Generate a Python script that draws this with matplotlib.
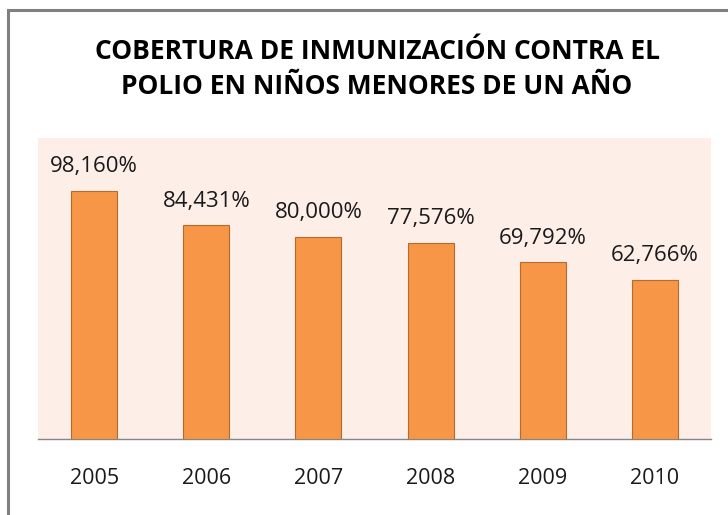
import matplotlib
matplotlib.use("Agg")
import matplotlib.pyplot as plt
from matplotlib.patches import Rectangle

years = ["2005", "2006", "2007", "2008", "2009", "2010"]
coverage = [98.160, 84.431, 80.000, 77.576, 69.792, 62.766]
labels = ["98,160%", "84,431%", "80,000%", "77,576%", "69,792%", "62,766%"]
title = "COBERTURA DE INMUNIZACIÓN CONTRA EL\nPOLIO EN NIÑOS MENORES DE UN AÑO"

W, H = 728, 515
fig = plt.figure(figsize=(W / 100, H / 100), dpi=100)
fig.patch.set_facecolor("white")

# outer frame (only top & left visible in reference)
fig.add_artist(Rectangle((8 / W, -0.05), 1.1, (H - 10) / H + 0.05, transform=fig.transFigure,
                         fill=False, edgecolor="#808080", linewidth=2.2))

ax = fig.add_axes([38 / W, (H - 439) / H, 673 / W, 301 / H])
ax.set_facecolor("#FDEEE8")
x = range(len(years))
ax.bar(x, coverage, width=0.41, color="#F79646", edgecolor="#B8692E", linewidth=0.8, zorder=3)
ax.set_xlim(-0.5, len(years) - 0.5)
ax.set_ylim(0, 119)
for xi, v, lab in zip(x, coverage, labels):
    ax.annotate(lab, (xi, v), xytext=(0, 10), textcoords="offset points",
                ha="center", va="bottom", fontsize=16, family="Open Sans", color="#1a1a1a")
for s in ["top", "right", "left"]:
    ax.spines[s].set_visible(False)
ax.spines["bottom"].set_color("#868686")
ax.spines["bottom"].set_linewidth(1.0)
ax.set_yticks([])
ax.set_xticks(list(x))
ax.set_xticklabels(years, fontsize=15.5, family="Open Sans", color="#1a1a1a")
ax.tick_params(axis="x", length=0, pad=21)

fig.text(377 / W, 1 - 69 / H, title, ha="center", va="center", fontsize=19,
         fontweight="bold", family="Open Sans", linespacing=1.35, color="#000000")

fig.savefig("out.png", dpi=100, facecolor="white")
